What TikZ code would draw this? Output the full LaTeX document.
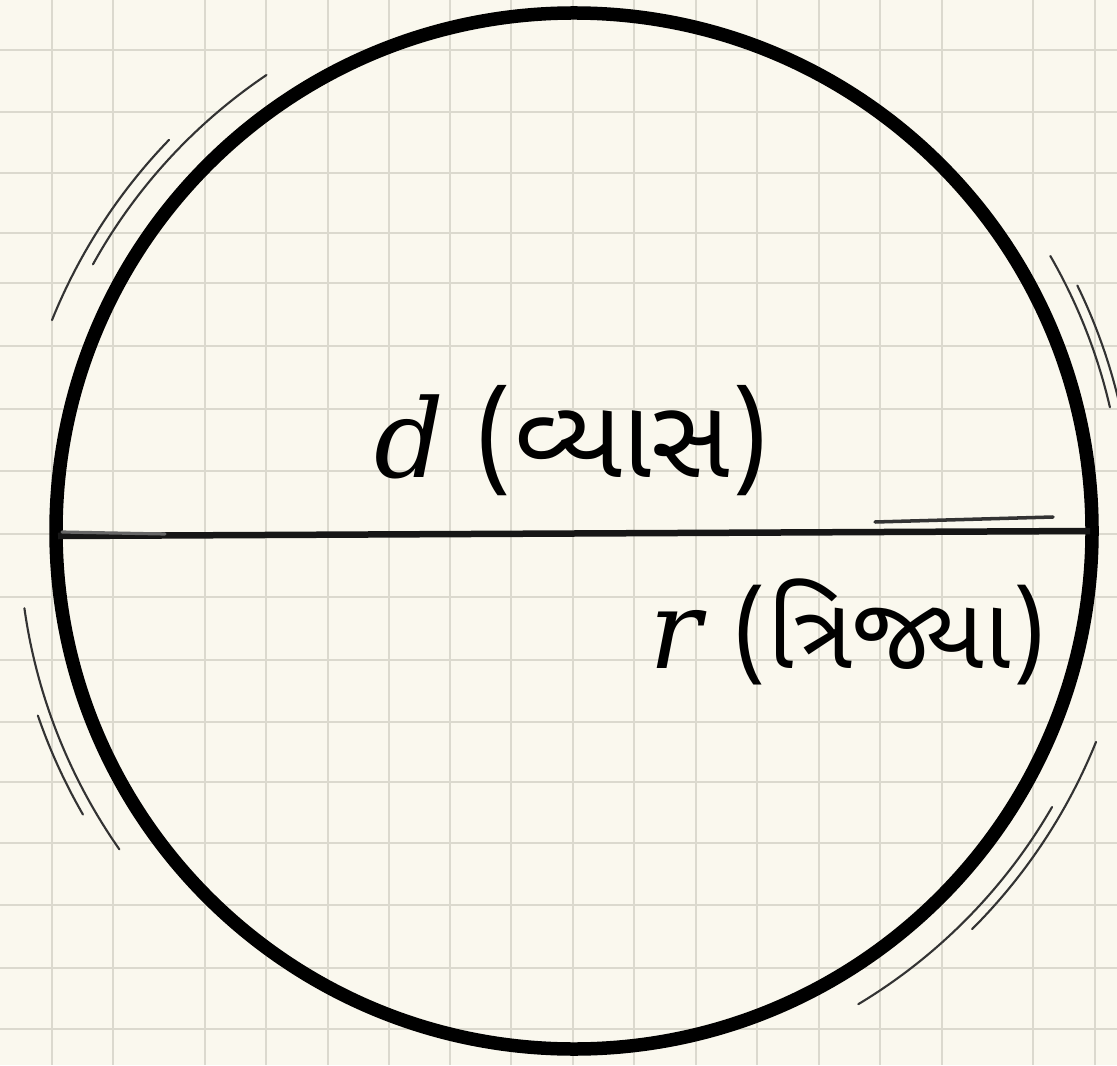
\documentclass[tikz,border=0pt]{standalone}
\usepackage{fontspec}
\newfontfamily\gujfont[Script=Gujarati]{Noto Sans Gujarati UI}
\newfontfamily\varfont{DejaVu Serif}
\definecolor{paper}{RGB}{250,248,238}
\definecolor{gridgray}{RGB}{219,217,206}
\definecolor{inkline}{RGB}{22,22,22}

\begin{document}
\begin{tikzpicture}[x=0.1mm, y=-0.1mm,
  gl/.style={draw=gridgray, line width=0.55pt},
  rim/.style={draw=black, line width=1.35mm},
  diam/.style={draw=inkline, line width=0.65mm},
  sk/.style={draw=black!80, line width=0.6pt, line cap=round},
  lbl/.style={font=\fontsize{29}{35}\selectfont, inner sep=0pt, anchor=base}]
\useasboundingbox[fill=paper] (0,0) rectangle (1117,1065);
\clip (0,0) rectangle (1117,1065);
% squared paper
\foreach \gx in {52,113,205,266,328,389,450,511,573,634,696,757,819,880,942,1033,1095}
  \draw[gl] (\gx,0) -- (\gx,1065);
\foreach \gy in {50,112,173,233,283,346,409,471,534,597,660,722,782,843,905,968,1029}
  \draw[gl] (0,\gy) -- (1117,\gy);
% circle and diameter
\coordinate (ctr) at (574,531);
\draw[rim] (ctr) circle[radius=518];
\coordinate (diamL) at (58,536);
\coordinate (diamR) at (1090,531);
\draw[diam] (diamL) -- (diamR);
\coordinate (echoL) at (62,532);
\coordinate (echoLend) at (165,534);
\draw[sk, line width=0.9pt, draw=black!60] (echoL) -- (echoLend);
\coordinate (echoR) at (875,522);
\coordinate (echoRend) at (1053,517);
\draw[sk, line width=1pt] (echoR) -- (echoRend);
% hand-drawn strokes round the rim
\foreach \a/\b/\r in {-124/-151/550, -136/-158/563, -188/-215/555, -199/-210/567,
                      22/45/563, 30/59/552, -30/-13/550, -26/-8/560}
  \draw[sk] (ctr) ++(\a:\r) arc[start angle=\a, end angle=\b, radius=\r];
% labels
\node[lbl] (dlabel) at (572,477)
  {{\varfont\itshape\fontsize{31}{35}\selectfont d} {\gujfont\fontsize{31.5}{35}\selectfont (વ્યાસ)}};
\node[lbl] (rlabel) at (848,668)
  {{\varfont\itshape\fontsize{31}{35}\selectfont r} {\gujfont\fontsize{28.5}{35}\selectfont (ત્રિજ્યા)}};
\end{tikzpicture}
\end{document}
